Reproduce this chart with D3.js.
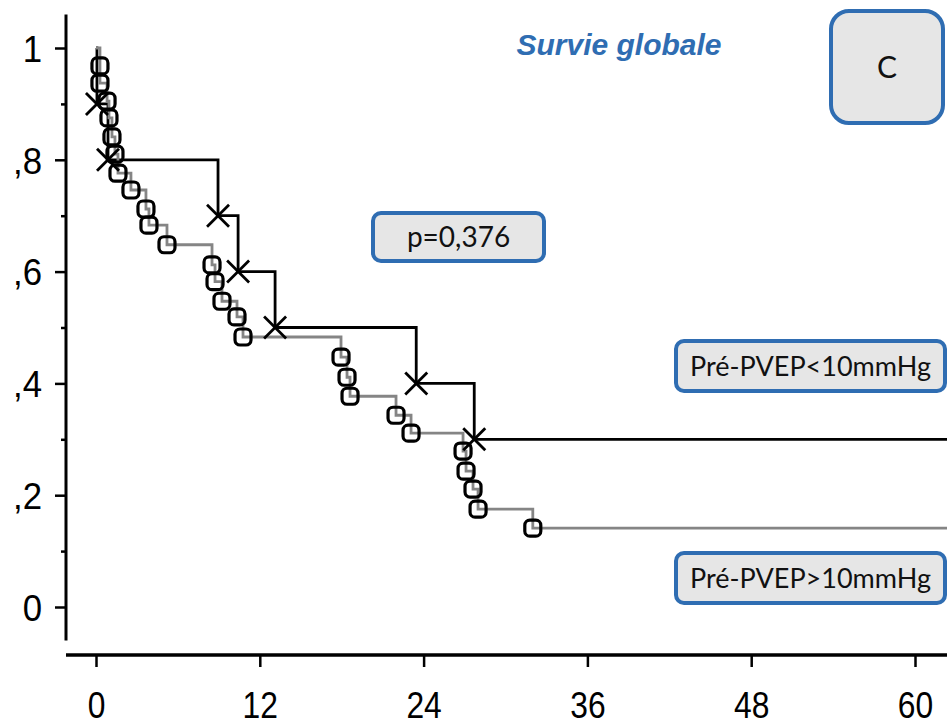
<!DOCTYPE html>
<html>
<head>
<meta charset="utf-8">
<script src="https://cdn.jsdelivr.net/npm/d3@7"></script>
<style>
  html, body { margin: 0; padding: 0; background: #fff; }
  svg { display: block; }
</style>
</head>
<body>
<div id="chart"></div>
<script>
// ---- Data ----
const titleText = "Survie globale";
const panelLabel = "C";
const pValueText = "p=0,376";
const seriesNames = ["Pré-PVEP<10mmHg", "Pré-PVEP>10mmHg"];

// Pré-PVEP<10mmHg : event times (months) and survival after each event
const lowTimes = [0.07, 0.88, 8.94, 10.41, 13.12, 23.46, 27.71];
const lowSurv  = [0.90, 0.80, 0.70, 0.60, 0.50, 0.40, 0.30];

// Pré-PVEP>10mmHg : event times (months) and survival after each event
const highTimes = [0.29, 0.29, 0.81, 0.95, 1.17, 1.39, 1.61, 2.56, 3.66, 3.88, 5.20,
                   8.50, 8.72, 9.23, 10.33, 10.77, 17.95, 18.39, 18.61, 21.98, 23.08,
                   26.89, 27.11, 27.62, 27.99, 32.00];
const highSurv  = [0.968, 0.937, 0.905, 0.875, 0.841, 0.810, 0.776, 0.746, 0.712, 0.683, 0.648,
                   0.612, 0.582, 0.547, 0.519, 0.483, 0.447, 0.411, 0.377, 0.343, 0.311,
                   0.279, 0.243, 0.211, 0.175, 0.141];

const xTicks = [0, 12, 24, 36, 48, 60];
const yTicks = [0, 0.2, 0.4, 0.6, 0.8, 1];
const yMinorTicks = [0.1, 0.3, 0.5, 0.7, 0.9];
const yTickLabels = ["0", ",2", ",4", ",6", ",8", "1"];
const followUpEnd = 62.5;

// ---- Layout ----
const W = 947, H = 726;
const svg = d3.select("#chart").append("svg").attr("width", W).attr("height", H);

const x = d3.scaleLinear().domain([0, 60]).range([96, 915]);
const y = d3.scaleLinear().domain([0, 1]).range([607, 48]);

const axisFont = "'Liberation Sans', Arial, sans-serif";
const boxFont = "Lato, 'Open Sans', sans-serif";
const blue = "#2f6db2";

// Y axis
const yAxisX = 66;
const yAxisG = svg.append("g").attr("transform", `translate(${yAxisX},0)`);
yAxisG.append("line")
  .attr("x1", 0).attr("x2", 0)
  .attr("y1", y(1.06)).attr("y2", y(-0.06))
  .attr("stroke", "#000").attr("stroke-width", 3);
const yAxis = d3.axisLeft(y).tickValues(yTicks).tickSize(11).tickPadding(8)
  .tickFormat((d, i) => yTickLabels[i]);
const yg = yAxisG.append("g").call(yAxis);
yg.select(".domain").remove();
yg.selectAll(".tick line").attr("stroke", "#000").attr("stroke-width", 2.5);
yg.selectAll(".tick text")
  .attr("font-family", axisFont).attr("font-size", 37).attr("fill", "#000")
  .attr("x", -25.5).attr("dy", "0.36em")
  .attr("transform", "scale(0.94,1)");
const ygm = yAxisG.append("g").call(d3.axisLeft(y).tickValues(yMinorTicks).tickSize(5).tickFormat(""));
ygm.select(".domain").remove();
ygm.selectAll(".tick line").attr("stroke", "#000").attr("stroke-width", 2.5);

// X axis
const xAxisY = 655;
const xAxisG = svg.append("g").attr("transform", `translate(0,${xAxisY})`);
xAxisG.append("line")
  .attr("x1", yAxisX).attr("x2", W)
  .attr("y1", 0).attr("y2", 0)
  .attr("stroke", "#000").attr("stroke-width", 3.5);
const xg = xAxisG.append("g").call(d3.axisBottom(x).tickValues(xTicks).tickSize(12).tickPadding(25));
xg.select(".domain").remove();
xg.selectAll(".tick line").attr("stroke", "#000").attr("stroke-width", 2.5);
xg.selectAll(".tick text")
  .attr("font-family", axisFont).attr("font-size", 37).attr("fill", "#000")
  .attr("dy", "0.69em")
  .attr("transform", "scale(0.86,1)");

// Curves
function stepPoints(times, surv) {
  const pts = [[0, 1]];
  times.forEach((t, i) => pts.push([t, surv[i]]));
  pts.push([followUpEnd, surv[surv.length - 1]]);
  return pts;
}
const line = d3.line().x(d => x(d[0])).y(d => y(d[1])).curve(d3.curveStepAfter);

svg.append("path").datum(stepPoints(lowTimes, lowSurv))
  .attr("d", line).attr("fill", "none").attr("stroke", "#000").attr("stroke-width", 2.8);
svg.append("path").datum(stepPoints(highTimes, highSurv))
  .attr("d", line).attr("fill", "none").attr("stroke", "#858585").attr("stroke-width", 2.8);

// Square markers (Pré-PVEP>10mmHg)
const sq = 16;
svg.append("g").selectAll("rect").data(highTimes.map((t, i) => [t, highSurv[i]]))
  .join("rect")
  .attr("x", d => x(d[0]) - sq / 2).attr("y", d => y(d[1]) - sq / 2)
  .attr("width", sq).attr("height", sq).attr("rx", 5)
  .attr("fill", "none").attr("stroke", "#000").attr("stroke-width", 3.2);

// X markers (Pré-PVEP<10mmHg)
const xs = 11;
const xm = svg.append("g").selectAll("g").data(lowTimes.map((t, i) => [t, lowSurv[i]]))
  .join("g").attr("transform", d => `translate(${x(d[0])},${y(d[1])})`);
xm.append("line").attr("x1", -xs).attr("y1", -xs).attr("x2", xs).attr("y2", xs)
  .attr("stroke", "#000").attr("stroke-width", 2.8);
xm.append("line").attr("x1", -xs).attr("y1", xs).attr("x2", xs).attr("y2", -xs)
  .attr("stroke", "#000").attr("stroke-width", 2.8);

// Title
svg.append("text").attr("x", 619).attr("y", 55).attr("text-anchor", "middle")
  .attr("font-family", axisFont).attr("font-size", 30).attr("font-weight", "bold")
  .attr("font-style", "italic").attr("fill", blue).text(titleText);

// Boxes
function box(x0, y0, w, h, rx, label, fs) {
  svg.append("rect").attr("x", x0).attr("y", y0).attr("width", w).attr("height", h)
    .attr("rx", rx).attr("fill", "#e6e6e6").attr("stroke", blue).attr("stroke-width", 4);
  svg.append("text").attr("x", x0 + w / 2).attr("y", y0 + h / 2).attr("dy", "0.36em")
    .attr("text-anchor", "middle").attr("font-family", boxFont).attr("font-size", fs)
    .attr("fill", "#111").text(label);
}
box(831, 11, 112, 112, 18, panelLabel, 30);
box(373, 213, 171, 48, 8, pValueText, 28);
box(676, 341, 269, 50, 8, seriesNames[0], 27);
box(676, 553, 269, 50, 8, seriesNames[1], 27);
</script>
</body>
</html>
